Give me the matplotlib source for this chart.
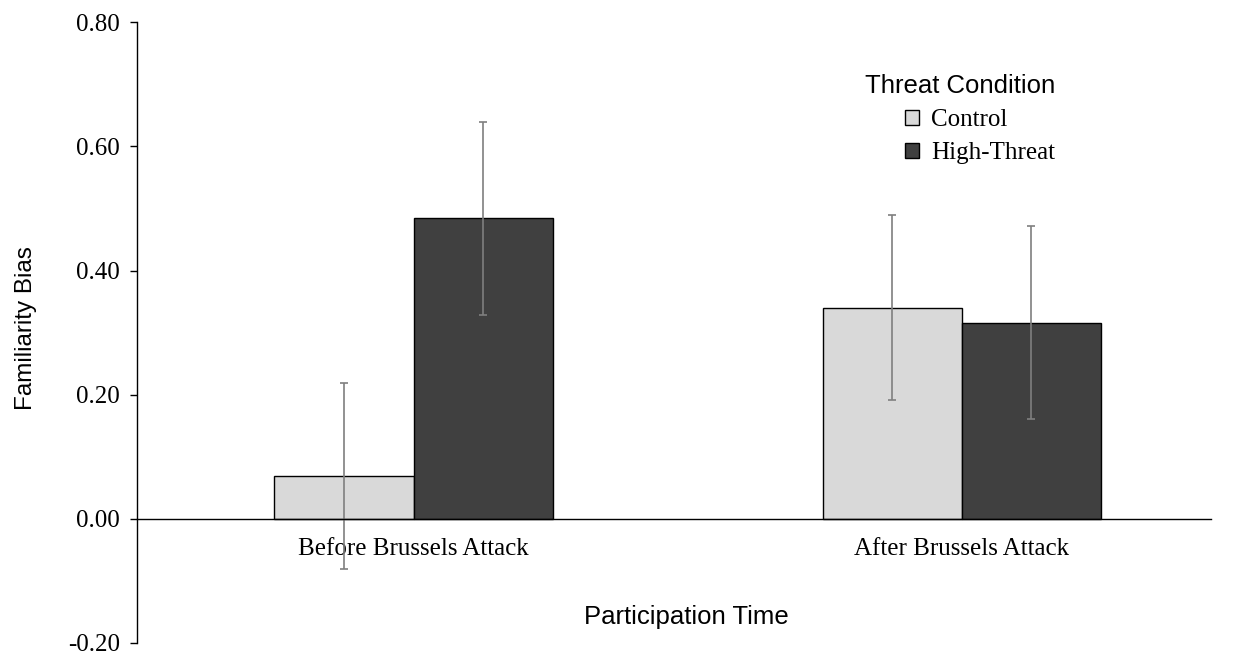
import numpy as np
import matplotlib.pyplot as plt
from matplotlib.patches import Patch

# ——— data ———
groups = ['Before Brussels Attack', 'After Brussels Attack']
conditions = ['Control', 'High-Threat']
control_mean = [0.069, 0.340]
control_err = [0.150, 0.149]
threat_mean = [0.484, 0.316]
threat_err = [0.156, 0.156]

CONTROL_COLOR = '#D9D9D9'
THREAT_COLOR = '#404040'
ERR_COLOR = '#7F7F7F'

SERIF = 'Liberation Serif'
SANS = 'Liberation Sans'

plt.rcParams.update({
    'font.family': SERIF,
    'axes.linewidth': 1.0,
})

fig = plt.figure(figsize=(12.43, 6.56), dpi=100)
ax = fig.add_axes([0.110, 0.020, 0.864, 0.946])

x = np.arange(len(groups))
width = 0.254

err_kw = dict(ecolor=ERR_COLOR, elinewidth=1.2, capsize=3, capthick=1.2)
ax.bar(x - width / 2, control_mean, width, yerr=control_err,
       color=CONTROL_COLOR, edgecolor='black', linewidth=1.0,
       error_kw=err_kw, label=conditions[0], zorder=2)
ax.bar(x + width / 2, threat_mean, width, yerr=threat_err,
       color=THREAT_COLOR, edgecolor='black', linewidth=1.0,
       error_kw=err_kw, label=conditions[1], zorder=2)

ax.set_xlim(-0.505, 1.454)
ax.set_ylim(-0.2, 0.8)
yticks = np.arange(-0.2, 0.81, 0.2)
ax.set_yticks(yticks)
ax.set_yticklabels([f'{v:.2f}' for v in yticks], fontsize=18)
ax.tick_params(axis='y', direction='out', length=5, width=1.0, pad=7)

# zero line doubles as the category axis
for side in ('top', 'right'):
    ax.spines[side].set_visible(False)
ax.spines['bottom'].set_position(('data', 0))
ax.set_xticks(x)
ax.set_xticklabels(groups, fontsize=18)
ax.tick_params(axis='x', length=0, pad=14)

ax.text(0.512, 0.042, 'Participation Time', transform=ax.transAxes,
        ha='center', va='center', fontsize=18.5, family=SANS)
fig.text(0.021, 0.5, 'Familiarity Bias', rotation=90, ha='center',
         va='center', fontsize=17.5, family=SANS)

handles = [Patch(facecolor=CONTROL_COLOR, edgecolor='black', linewidth=1.0),
           Patch(facecolor=THREAT_COLOR, edgecolor='black', linewidth=1.0)]
leg = ax.legend(handles, conditions, title='Threat Condition',
                loc='upper left', bbox_to_anchor=(0.657, 0.953),
                frameon=False, fontsize=18, alignment='right',
                handlelength=0.55, handleheight=0.55, handletextpad=0.5,
                labelspacing=0.45)
leg.get_title().set_fontfamily(SANS)
leg.get_title().set_fontsize(18.5)

fig.savefig('out.png', dpi=100, facecolor='white')
